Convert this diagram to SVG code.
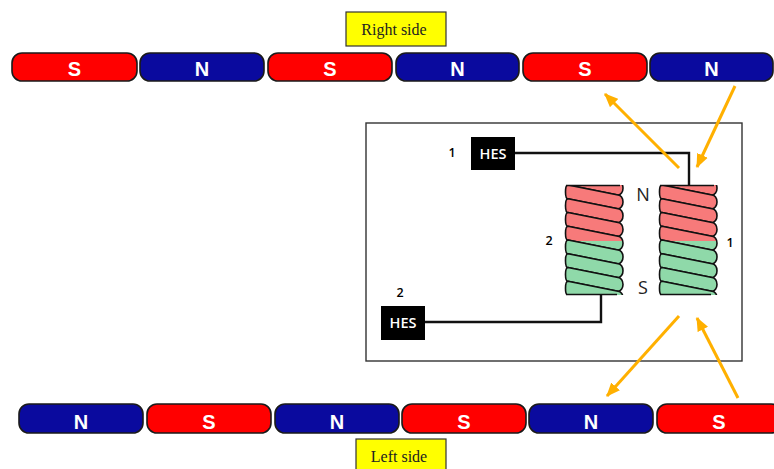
<svg xmlns="http://www.w3.org/2000/svg" xmlns:xlink="http://www.w3.org/1999/xlink" width="774" height="469" viewBox="0 0 774 469">
  <style>
    .mag { stroke: #1a1a1a; stroke-width: 1.6; }
    .s { fill: #ff0000; }
    .n { fill: #0a0a9e; }
    .mtxt { font-family: "Liberation Sans", Arial, sans-serif; font-weight: bold; font-size: 20px; fill: #ffffff; text-anchor: middle; }
    .tag { fill: #ffff00; stroke: #333333; stroke-width: 1.2; }
    .tagtxt { font-family: "Liberation Serif", "Times New Roman", serif; font-size: 16px; fill: #222222; text-anchor: middle; }
    .hes { fill: #000000; }
    .hestxt { font-family: "Open Sans", "Liberation Sans", sans-serif; font-weight: 600; font-size: 14.5px; fill: #ffffff; text-anchor: middle; }
    .num { font-family: "Open Sans", "Liberation Sans", sans-serif; font-weight: 600; font-size: 12.5px; fill: #000000; text-anchor: middle; }
    .pole { font-family: "Open Sans", "Liberation Sans", sans-serif; font-size: 18px; fill: #222222; text-anchor: middle; }
    .wire { fill: none; stroke: #111111; stroke-width: 2.4; }
    .arrow { fill: none; stroke: #ffb000; stroke-width: 3; marker-end: url(#head); }
    .turn { fill: url(#coilfill); stroke: #111111; stroke-width: 1.6; stroke-linejoin: round; }
    .edge { stroke: #111111; stroke-width: 1.6; }
  </style>
  <defs>
    <marker id="head" viewBox="0 0 12 10" refX="11" refY="5" markerWidth="14" markerHeight="12" markerUnits="userSpaceOnUse" orient="auto">
      <path d="M0,0 L12,5 L0,10 Z" fill="#ffb000"/>
    </marker>
    <linearGradient id="coilfill" gradientUnits="userSpaceOnUse" x1="0" y1="0" x2="0" y2="110">
      <stop offset="0.509" stop-color="#f77a7a"/>
      <stop offset="0.509" stop-color="#8fd9a9"/>
    </linearGradient>
    <clipPath id="coilclip" clipPathUnits="userSpaceOnUse">
      <rect x="-6" y="0" width="72" height="110"/>
    </clipPath>
    <!-- one coil, 58 wide and 110 tall, top-left at the origin -->
    <g id="coil">
      <g clip-path="url(#coilclip)">
        <path class="turn" d="M3,-13.75 L53,-3.75 A5,6.875 0 0 1 53,10 L3,0 A2.5,6.875 0 0 1 3,-13.75 Z"/>
        <path class="turn" d="M3,0 L53,10 A5,6.875 0 0 1 53,23.75 L3,13.75 A2.5,6.875 0 0 1 3,0 Z"/>
        <path class="turn" d="M3,13.75 L53,23.75 A5,6.875 0 0 1 53,37.5 L3,27.5 A2.5,6.875 0 0 1 3,13.75 Z"/>
        <path class="turn" d="M3,27.5 L53,37.5 A5,6.875 0 0 1 53,51.25 L3,41.25 A2.5,6.875 0 0 1 3,27.5 Z"/>
        <path class="turn" d="M3,41.25 L53,51.25 A5,6.875 0 0 1 53,65 L3,55 A2.5,6.875 0 0 1 3,41.25 Z"/>
        <path class="turn" d="M3,55 L53,65 A5,6.875 0 0 1 53,78.75 L3,68.75 A2.5,6.875 0 0 1 3,55 Z"/>
        <path class="turn" d="M3,68.75 L53,78.75 A5,6.875 0 0 1 53,92.5 L3,82.5 A2.5,6.875 0 0 1 3,68.75 Z"/>
        <path class="turn" d="M3,82.5 L53,92.5 A5,6.875 0 0 1 53,106.25 L3,96.25 A2.5,6.875 0 0 1 3,82.5 Z"/>
        <path class="turn" d="M3,96.25 L53,106.25 A5,6.875 0 0 1 53,120 L3,110 A2.5,6.875 0 0 1 3,96.25 Z"/>
      </g>
      <line class="edge" x1="1" y1="0.5" x2="55" y2="0.5"/>
      <line class="edge" x1="1" y1="109.5" x2="52" y2="109.5"/>
    </g>
  </defs>

  <rect width="774" height="469" fill="#ffffff"/>

  <!-- upper magnet row -->
  <g id="top-row">
    <g id="top-1"><rect class="mag s" x="12" y="53" width="125" height="28" rx="10"/><text class="mtxt" x="74.5" y="76">S</text></g>
    <g id="top-2"><rect class="mag n" x="140" y="53" width="124" height="28" rx="10"/><text class="mtxt" x="202" y="76">N</text></g>
    <g id="top-3"><rect class="mag s" x="268" y="53" width="124" height="28" rx="10"/><text class="mtxt" x="330" y="76">S</text></g>
    <g id="top-4"><rect class="mag n" x="396" y="53" width="123" height="28" rx="10"/><text class="mtxt" x="457.5" y="76">N</text></g>
    <g id="top-5"><rect class="mag s" x="523" y="53" width="124" height="28" rx="10"/><text class="mtxt" x="585" y="76">S</text></g>
    <g id="top-6"><rect class="mag n" x="650" y="53" width="123" height="28" rx="10"/><text class="mtxt" x="711.5" y="76">N</text></g>
  </g>

  <!-- lower magnet row -->
  <g id="bottom-row">
    <g id="bot-1"><rect class="mag n" x="19" y="404" width="124" height="29" rx="10"/><text class="mtxt" x="81" y="429">N</text></g>
    <g id="bot-2"><rect class="mag s" x="147" y="404" width="124" height="29" rx="10"/><text class="mtxt" x="209" y="429">S</text></g>
    <g id="bot-3"><rect class="mag n" x="275" y="404" width="124" height="29" rx="10"/><text class="mtxt" x="337" y="429">N</text></g>
    <g id="bot-4"><rect class="mag s" x="402" y="404" width="124" height="29" rx="10"/><text class="mtxt" x="464" y="429">S</text></g>
    <g id="bot-5"><rect class="mag n" x="529" y="404" width="124" height="29" rx="10"/><text class="mtxt" x="591" y="429">N</text></g>
    <g id="bot-6"><rect class="mag s" x="657" y="404" width="124" height="29" rx="10"/><text class="mtxt" x="719" y="429">S</text></g>
  </g>

  <!-- side tags -->
  <g id="tag-right"><rect class="tag" x="346" y="12" width="100" height="34"/><text class="tagtxt" x="394" y="35">Right side</text></g>
  <g id="tag-left"><rect class="tag" x="356" y="439" width="90" height="34"/><text class="tagtxt" x="399" y="462">Left side</text></g>

  <!-- stator frame -->
  <g id="frame"><rect x="366" y="123" width="376" height="238" fill="none" stroke="#333333" stroke-width="1.4"/></g>

  <!-- wiring between sensors and coils -->
  <g id="connectors">
    <path class="wire" d="M515,153 H689 V185"/>
    <path class="wire" d="M601,295 V322 H425"/>
    <line class="arrow" x1="679" y1="168" x2="605" y2="94"/>
    <line class="arrow" x1="735" y1="86" x2="697" y2="167"/>
    <line class="arrow" x1="679" y1="316" x2="607" y2="396"/>
    <line class="arrow" x1="738" y1="398" x2="697" y2="318"/>
  </g>

  <!-- Hall effect sensors -->
  <g id="hes-1"><rect class="hes" x="471" y="137" width="44" height="33"/><text class="hestxt" x="493" y="159">HES</text><text class="num" x="452" y="157">1</text></g>
  <g id="hes-2"><rect class="hes" x="381" y="306" width="44" height="34"/><text class="hestxt" x="403" y="328">HES</text><text class="num" x="400" y="297">2</text></g>

  <!-- coils -->
  <g id="coil-2"><use xlink:href="#coil" href="#coil" x="565" y="185"/><text class="num" x="549" y="245">2</text></g>
  <g id="coil-1"><use xlink:href="#coil" href="#coil" x="659" y="185"/><text class="num" x="730" y="247">1</text></g>

  <!-- pole labels -->
  <g id="poles">
    <text class="pole" x="643" y="201">N</text>
    <text class="pole" x="643" y="294">S</text>
  </g>
</svg>
